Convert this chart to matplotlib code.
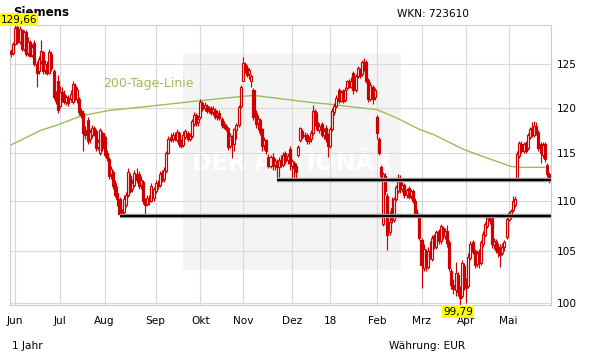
import matplotlib
matplotlib.use("Agg")
import matplotlib.pyplot as plt
from matplotlib.patches import Rectangle
from matplotlib.ticker import NullLocator, FixedLocator, FixedFormatter

# ---------------- data ----------------
opens = [126.5,126.3,127.4,129.4,127.6,129.0,126.8,128.8,126.3,127.6,
         126.1,127.5,125.0,124.2,125.4,126.4,124.3,125.0,124.0,126.2,
         124.2,121.5,123.0,120.2,121.8,121.6,120.6,121.1,121.0,120.6,
         122.5,121.0,121.0,119.6,119.4,117.5,118.6,116.5,117.0,117.8,
         117.4,115.7,115.0,117.2,116.8,115.0,114.4,112.8,113.0,111.8,
         110.8,110.2,108.6,108.9,109.6,110.6,112.6,111.2,111.6,112.8,
         112.8,111.6,112.0,110.0,109.7,110.2,110.0,110.3,111.0,111.9,
         111.6,112.9,112.3,113.1,115.0,116.8,116.5,117.0,116.4,117.2,
         116.1,115.9,116.8,117.2,116.6,116.9,118.2,119.2,118.4,119.0,
         120.5,120.0,120.2,119.7,120.0,119.5,119.8,119.2,119.4,118.8,
         118.2,118.0,117.8,115.8,116.8,116.0,117.5,118.1,120.2,123.1,
         125.0,124.5,123.8,123.0,122.0,119.4,118.3,118.6,117.6,115.9,
         116.4,114.6,113.6,114.6,113.7,114.0,113.5,114.3,113.8,115.0,
         114.3,115.5,113.6,114.0,113.6,114.8,116.4,117.4,116.9,117.0,
         116.3,116.5,117.2,119.6,118.4,117.5,118.2,117.0,117.8,117.0,
         115.8,117.6,119.5,120.2,122.0,120.8,121.9,120.9,122.2,123.0,
         122.4,124.0,122.0,123.6,124.4,123.8,125.3,125.2,123.2,121.0,
         122.4,121.2,119.0,116.6,113.5,107.6,112.6,110.5,106.8,109.3,
         108.0,110.2,111.0,112.4,111.2,111.6,110.6,111.3,110.5,111.0,
         110.0,108.8,108.3,106.0,103.3,105.0,103.4,105.0,104.2,106.4,
         105.4,106.9,105.9,107.2,106.4,106.9,105.8,103.0,101.7,101.2,
         102.6,101.2,100.6,103.5,101.8,101.6,104.3,105.8,105.0,103.7,
         104.9,103.8,105.6,106.5,107.4,108.5,108.4,105.5,105.9,105.4,
         105.3,104.8,105.4,106.3,108.0,108.3,109.1,109.6,112.2,114.7,
         116.0,115.2,116.1,115.6,116.8,117.8,117.0,118.0,117.3,116.0,
         114.8,116.0,113.8,112.8]
highs = [126.8,127.6,129.6,129.66,129.5,129.2,129.1,129.0,128.2,127.8,
         127.4,127.8,125.4,126.0,127.8,126.6,125.5,125.4,126.8,126.5,
         124.4,121.9,123.7,122.5,122.3,122.0,121.5,121.5,122.0,123.1,
         122.8,122.4,121.2,120.0,119.8,118.0,119.0,117.6,118.1,118.0,
         117.6,116.6,117.8,117.4,117.0,115.4,114.6,113.6,113.2,112.2,
         111.5,110.4,109.2,110.6,110.9,113.4,112.9,112.3,113.2,113.4,
         113.1,112.6,112.2,110.3,110.6,110.6,111.8,111.4,112.2,112.2,
         113.1,113.2,113.5,115.3,116.9,117.2,117.3,117.3,117.6,117.4,
         116.6,117.4,117.6,117.4,117.2,118.8,119.5,119.4,119.2,121.0,
         120.8,120.6,120.4,120.2,120.2,120.2,120.0,119.7,119.7,119.0,
         118.5,118.2,117.9,117.2,117.0,117.8,118.3,120.3,122.6,125.8,
         125.3,124.9,124.6,123.8,122.2,119.7,119.2,118.9,117.8,116.8,
         116.6,114.9,114.8,115.0,114.5,114.4,114.6,114.8,115.1,115.2,
         115.0,115.8,114.4,114.2,114.0,115.9,117.9,117.6,117.3,117.2,
         116.9,117.5,120.3,119.9,119.5,118.3,118.4,117.8,118.1,117.2,
         117.9,120.0,120.5,121.4,122.2,122.0,122.1,122.3,123.2,123.3,
         123.5,124.2,123.9,124.8,124.6,125.5,125.7,125.5,123.4,122.9,
         122.6,122.2,119.2,116.8,113.8,113.0,112.9,110.8,109.0,110.4,
         110.4,111.6,112.8,112.7,112.0,111.9,111.3,111.5,111.2,111.2,
         110.3,109.2,108.5,106.2,105.6,105.2,105.4,105.9,106.5,106.6,
         107.0,107.1,107.6,107.4,107.2,107.5,106.0,103.3,102.2,103.9,
         102.9,101.6,104.1,103.8,102.3,104.8,105.9,106.0,105.2,105.1,
         105.2,106.0,106.9,107.8,108.4,108.6,108.6,106.2,106.1,105.7,
         105.6,105.7,106.0,108.3,109.0,109.2,110.5,110.5,115.2,116.3,
         116.3,116.2,116.3,117.2,117.9,118.4,118.5,118.4,117.5,116.2,
         116.2,116.2,114.0,113.0]
lows = [125.8,126.1,127.2,127.4,127.4,126.5,126.5,125.9,126.0,125.8,
        125.8,124.8,122.3,123.9,125.0,123.9,123.9,123.7,123.8,124.2,
        121.0,120.4,119.4,120.0,120.6,120.4,120.3,120.2,120.6,120.4,
        120.8,120.5,119.2,118.9,115.2,116.6,116.0,116.1,116.7,116.9,
        115.3,115.4,114.8,115.2,114.6,114.2,112.3,112.3,111.2,110.4,
        109.5,108.5,108.4,108.7,109.4,110.4,110.8,110.9,111.4,111.8,
        111.2,111.2,109.7,108.5,109.5,109.6,109.9,110.0,110.8,111.2,
        111.4,112.0,112.0,112.9,114.9,116.2,116.2,116.3,116.2,115.7,
        115.6,115.7,116.5,116.3,116.3,116.7,118.0,118.0,118.0,118.8,
        119.6,119.6,119.4,119.4,119.2,119.2,118.7,118.6,118.6,117.8,
        117.6,117.4,115.4,115.6,114.5,115.3,116.5,117.9,120.0,123.0,
        124.0,123.5,123.3,122.4,118.6,117.8,117.5,117.0,115.3,115.4,
        114.9,113.4,113.4,113.2,113.2,112.15,112.5,113.5,113.5,113.9,
        113.9,113.2,112.2,112.5,112.2,114.6,116.2,116.5,116.4,116.0,
        116.0,116.2,117.0,118.0,117.4,117.2,116.8,116.6,116.2,114.6,
        115.6,117.4,119.2,120.0,120.5,120.6,120.5,120.6,122.0,122.2,
        122.2,121.6,121.8,123.4,123.4,123.6,124.2,122.8,120.7,120.8,
        120.4,120.9,116.5,114.8,112.3,107.4,110.6,105.1,106.5,107.7,
        107.8,110.0,110.8,110.8,110.9,110.3,110.3,110.2,110.2,109.8,
        108.5,108.4,106.0,101.4,103.0,103.0,103.2,104.2,104.0,105.2,
        105.2,105.6,105.6,106.1,106.1,105.4,103.0,101.3,100.8,100.6,
        100.6,99.79,100.4,101.2,100.0,101.4,104.1,104.7,103.3,103.4,
        103.3,103.6,105.4,106.3,107.2,107.6,105.3,105.2,104.8,104.4,
        103.4,104.6,105.0,106.1,107.9,108.1,108.9,109.4,112.1,114.5,
        115.0,115.0,115.0,115.4,116.6,116.8,116.8,117.0,115.2,114.0,
        114.5,114.1,112.5,111.9]
closes = [126.2,127.4,129.3,127.6,129.2,126.8,128.8,126.2,127.6,126.0,
          127.0,125.0,124.0,125.6,126.6,124.2,125.0,124.0,126.4,124.6,
          121.2,120.8,119.8,121.8,120.9,120.6,121.2,120.5,121.6,122.7,
          121.0,122.0,119.5,119.2,117.2,117.0,116.3,117.3,117.8,117.2,
          115.6,116.2,117.5,115.6,114.8,114.5,112.6,113.3,111.5,110.6,
          110.2,108.7,108.8,110.2,110.6,113.0,111.0,111.8,112.9,112.2,
          111.5,112.2,110.0,109.6,110.3,110.0,111.5,111.2,111.9,111.5,
          112.8,112.2,113.2,115.0,116.6,116.4,117.0,116.5,117.3,116.0,
          115.8,117.0,117.4,116.6,116.9,118.5,119.2,118.3,118.8,120.6,
          119.9,120.3,119.6,119.9,119.4,119.9,119.0,119.4,118.9,118.1,
          117.9,117.6,115.7,116.9,116.2,117.6,118.1,120.1,122.4,125.1,
          124.4,123.7,124.3,123.6,119.0,118.2,118.8,117.3,115.8,116.4,
          115.2,113.6,114.6,113.6,114.2,113.5,114.3,113.8,114.8,114.2,
          114.7,114.0,114.2,113.4,113.0,115.7,117.7,116.8,117.0,116.3,
          116.6,117.2,119.6,118.2,117.6,118.0,117.0,117.4,116.5,115.8,
          117.6,119.6,120.2,121.1,120.8,121.8,120.8,122.0,123.0,122.4,
          123.1,122.0,123.6,124.5,123.6,125.2,124.5,123.0,121.0,122.6,
          121.0,122.0,117.2,115.0,112.6,112.8,111.0,106.5,107.8,108.0,
          110.2,111.4,112.4,111.2,111.6,110.6,111.1,110.4,111.0,110.0,
          108.8,108.7,106.2,103.6,105.2,103.4,105.0,104.5,106.2,105.5,
          106.8,105.9,107.4,106.4,106.9,105.7,103.3,101.7,101.3,102.8,
          101.0,100.4,103.8,101.8,101.4,104.4,105.6,104.9,103.6,104.8,
          103.8,105.8,106.6,107.6,108.2,107.9,105.6,105.9,105.1,104.9,
          104.6,105.4,105.8,108.1,108.8,109.0,110.0,110.2,114.9,116.1,
          115.2,116.0,115.3,117.0,117.6,117.0,118.0,117.2,115.6,115.0,
          115.9,114.4,112.8,112.3]

# 200-day line (index of trading day, value)
ma_idx = [0, 14, 22, 33, 46, 70, 89, 101, 114, 131, 141, 150, 164, 172,
          181, 192, 199, 213, 225, 235, 240, 251]
ma_val = [115.9, 117.5, 118.1, 119.1, 119.7, 120.3, 120.8, 121.1, 121.4,
          120.9, 120.6, 120.4, 120.0, 119.8, 118.9, 117.6, 117.0, 115.4,
          114.4, 113.6, 113.5, 113.5]

# support lines: (start index, level)
support_start = [125, 51]
support_level = [112.15, 108.44]

month_idx = [2, 23, 44, 68, 89, 109, 132, 150, 172, 193, 214, 234]
month_labels = ["Jun", "Jul", "Aug", "Sep", "Okt", "Nov", "Dez", "18",
                "Feb", "Mrz", "Apr", "Mai"]
y_ticks = [100, 105, 110, 115, 120, 125]
y_tick_labels = ["100", "105", "110", "115", "120", "125"]

max_label = "129,66"
min_label = "99,79"

# ---------------- figure ----------------
W, H = 611, 364
fig = plt.figure(figsize=(W / 100, H / 100), dpi=100)
ax = fig.add_axes([10.3 / W, 1 - 305 / H, (550.7 - 10.3) / W, (305 - 25) / H])

RED = "#d00000"
GRID = "#d9d9d9"
GREEN = "#9cbc59"
FS = 7.6

ax.set_yscale("log")
ax.set_ylim(99.79, 129.66)
ax.set_xlim(-0.35, 253.75)

# watermark (behind grid and candles)
ax.add_patch(Rectangle((183 / W, 1 - 270 / H), 218 / W, 217 / H,
                       transform=fig.transFigure, facecolor="#f4f4f4",
                       edgecolor="none", zorder=0.2))
ax.text(292 / W, 1 - 163 / H, "DER AKTIONÄR", color="white",
        fontsize=17, fontweight="bold", ha="center", va="center",
        transform=fig.transFigure, zorder=0.3)
ax.set_axisbelow(True)

# grid
ax.grid(True, which="major", color=GRID, linewidth=0.8)
for sp in ax.spines.values():
    sp.set_color("#cccccc")
    sp.set_linewidth(0.8)

# 200 day line
ax.plot(ma_idx, ma_val, color=GREEN, linewidth=1.0, zorder=1)
fig.text(103 / W, 1 - 83 / H, "200-Tage-Linie", color=GREEN, fontsize=9,
         ha="left", va="center")

# candles
n = len(closes)
xs = list(range(n))
ax.vlines(xs, lows, highs, color=RED, linewidth=0.85, zorder=2)
for i in range(n):
    o, c = opens[i], closes[i]
    bottom = min(o, c)
    height = max(abs(c - o), 0.08)
    fc = RED if c < o else "white"
    ax.bar(i, height, bottom=bottom, width=0.95, facecolor=fc,
           edgecolor=RED, linewidth=0.85, zorder=3)

# support lines
for s, lv in zip(support_start, support_level):
    ax.plot([s, 253.75], [lv, lv], color="#9a9a9a", linewidth=3.2,
            solid_capstyle="butt", zorder=4, clip_on=False)
    ax.plot([s, 253.75], [lv, lv], color="black", linewidth=1.5,
            solid_capstyle="butt", zorder=5, clip_on=False)

# axes ticks
ax.yaxis.tick_right()
ax.yaxis.set_major_locator(FixedLocator(y_ticks))
ax.yaxis.set_major_formatter(FixedFormatter(y_tick_labels))
ax.yaxis.set_minor_locator(NullLocator())
ax.tick_params(axis="y", length=0, pad=4.5, labelsize=FS)
ax.set_xticks(month_idx)
ax.set_xticklabels(month_labels)
ax.tick_params(axis="x", length=0, pad=8, labelsize=FS)

# texts
fig.text(13 / W, 1 - 12 / H, "Siemens", fontsize=8.5, fontweight="bold",
         ha="left", va="center")
fig.text(0.5 / W, 1 - 19.5 / H, max_label, fontsize=FS, ha="left",
         va="center", bbox=dict(boxstyle="square,pad=0.12",
                                facecolor="#ffff00", edgecolor="none"))
fig.text(458 / W, 1 - 311.5 / H, min_label, fontsize=FS, ha="center",
         va="center", bbox=dict(boxstyle="square,pad=0.12",
                                facecolor="#ffff00", edgecolor="none"),
         zorder=6)
fig.text(397 / W, 1 - 14 / H, "WKN: 723610", fontsize=FS, ha="left",
         va="center")
fig.text(12 / W, 1 - 346 / H, "1 Jahr", fontsize=FS, ha="left", va="center")
fig.text(389 / W, 1 - 346 / H, "Währung: EUR", fontsize=FS, ha="left",
         va="center")

fig.savefig("out.png", dpi=100)
